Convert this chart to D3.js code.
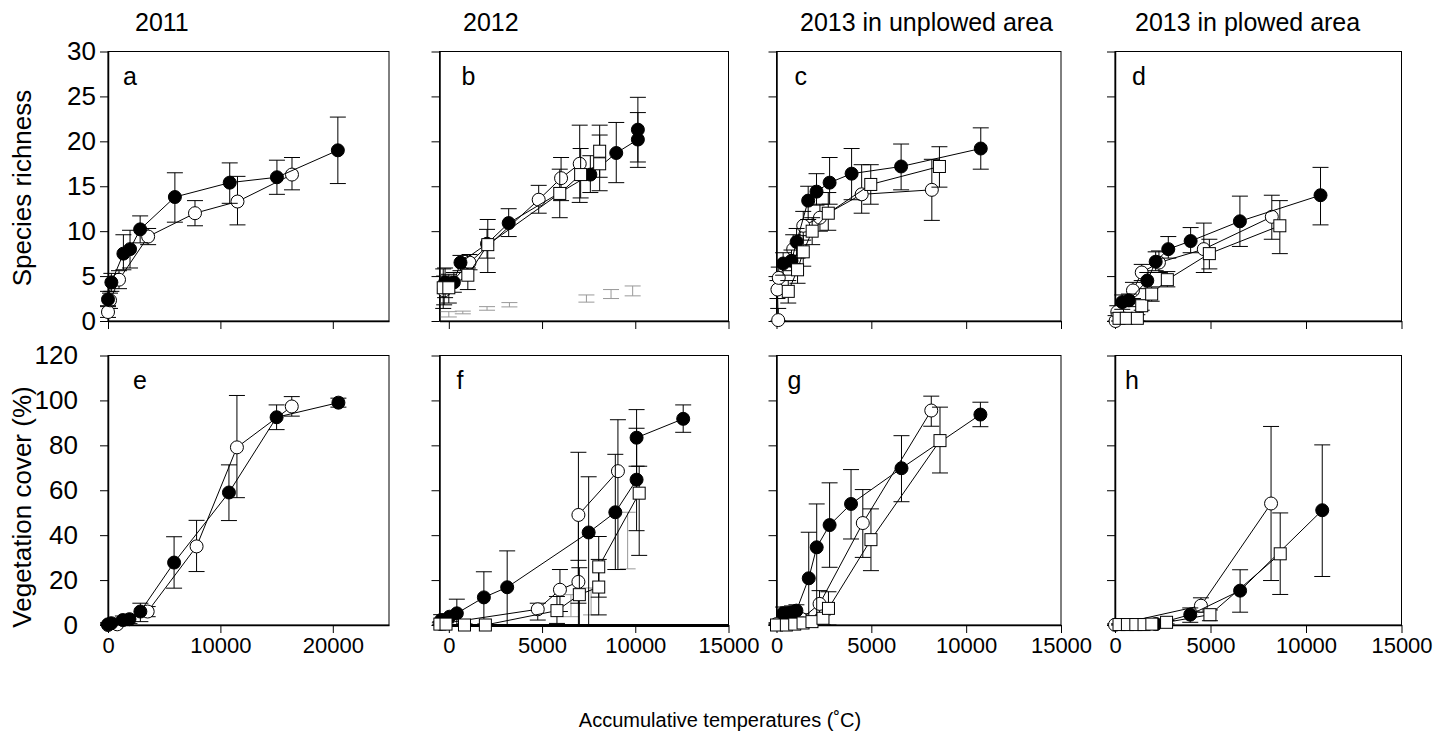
<!DOCTYPE html>
<html lang="en">
  <head>
    <meta charset="UTF-8" />
    <title>Species richness and vegetation cover</title>
    <style>
      body { margin: 0; background: #fff; }
      text { font-family: "Liberation Sans", Arial, sans-serif; }
    </style>
  </head>
  <body>
    <svg id="chart"></svg>
    <script src="https://cdnjs.cloudflare.com/ajax/libs/d3/7.8.5/d3.min.js"></script>
    <script>
      // each point: [accumulative temperature, mean, lower error, upper error]
      const aFilled = [[0, 2.4, 1.7, 3.3], [300, 4.3, 3.3, 5.3], [1370, 7.5, 5.7, 9.6], [1960, 8.0, 5.9, 10.1], [2860, 10.2, 8.7, 11.7], [5950, 13.8, 11.0, 16.5], [10830, 15.4, 13.1, 17.6], [15030, 16.0, 14.1, 17.9], [20450, 19.0, 15.3, 22.7]];
      const aOpen = [[0, 1.0, 0.4, 1.6], [180, 2.3, 1.4, 3.1], [980, 4.6, 3.6, 5.6], [3570, 9.4, 8.5, 10.3], [7740, 12.0, 10.6, 13.4], [11520, 13.3, 10.7, 16.1], [16370, 16.3, 14.6, 18.2]];

      const bFilled = [[-200, 4.3, 2.6, 5.9], [270, 4.3, 3.2, 5.4], [625, 6.5, 5.6, 7.3], [2050, 8.6, 7.0, 10.2], [3210, 10.9, 9.4, 12.5], [7590, 16.3, 14.3, 18.4], [8980, 18.7, 15.4, 22.1], [10140, 20.2, 17.1, 23.2], [10140, 21.3, 17.7, 24.9]];
      const bOpen = [[-250, 3.4, 1.8, 5.0], [1110, 6.5, 5.7, 7.4], [4820, 13.5, 12.0, 15.1], [6020, 15.9, 13.4, 18.2], [7020, 17.5, 13.2, 21.8]];
      const bSquare = [[-300, 3.7, 1.4, 5.8], [0, 3.7, 2.0, 5.2], [1020, 5.1, 3.5, 5.9], [2090, 8.5, 5.4, 11.3], [5950, 14.2, 11.5, 16.9], [7070, 16.3, 13.7, 19.2], [8090, 17.5, 14.5, 20.7], [8090, 18.9, 16.0, 21.8]];
      const bGray = [[0, 0.75, 0.45, 1.04], [750, 0.95, 0.8, 1.1], [2050, 1.4, 1.2, 1.6], [3250, 1.8, 1.57, 2.05], [7380, 2.5, 2.1, 2.9], [8700, 3.0, 2.5, 3.5], [9860, 3.4, 2.8, 3.9]];

      const cFilled = [[350, 6.4, 5.1, 7.6], [790, 6.7, 5.6, 7.9], [1060, 8.8, 7.3, 10.3], [1670, 13.4, 11.3, 15.0], [2110, 14.4, 12.9, 16.4], [2800, 15.4, 13.0, 18.2], [3960, 16.4, 13.5, 19.2], [6570, 17.2, 14.6, 19.7], [10770, 19.2, 16.9, 21.5]];
      const cOpen = [[90, 0.1, 0, 1.4], [50, 3.5, 2.5, 4.5], [120, 4.8, 3.6, 6.0], [880, 8.0, 6.4, 9.6], [1410, 10.6, 9.0, 12.2], [2290, 11.5, 10.0, 13.0], [4490, 14.1, 12.0, 17.4], [8190, 14.6, 11.2, 18.0]];
      const cSquare = [[620, 3.3, 2.0, 4.5], [1110, 5.7, 4.2, 7.0], [1410, 7.7, 6.1, 9.5], [1880, 10.0, 8.5, 11.5], [2730, 12.0, 10.1, 14.3], [4970, 15.2, 13.0, 17.4], [8590, 17.2, 14.9, 19.4]];

      const dFilled = [[380, 2.1, 1.3, 2.9], [730, 2.3, 1.6, 3.0], [1690, 4.5, 3.6, 5.4], [2130, 6.6, 5.6, 7.7], [2790, 8.0, 7.0, 9.4], [3960, 8.9, 7.6, 10.4], [6540, 11.1, 8.3, 13.9], [10760, 14.0, 10.7, 17.1]];
      const dOpen = [[30, 0.0, 0, 0.6], [120, 1.0, 0.3, 1.7], [940, 3.4, 2.5, 4.3], [1400, 5.4, 4.5, 6.3], [2300, 6.5, 5.4, 7.8], [4650, 8.0, 5.4, 10.9], [8210, 11.6, 9.1, 14.0]];
      const dSquare = [[210, 0.3, 0, 0.9], [590, 0.3, 0, 0.9], [1170, 0.3, 0, 0.7], [1400, 1.7, 1.2, 2.3], [1920, 3.0, 2.2, 3.8], [2740, 4.6, 3.8, 5.5], [4940, 7.5, 5.8, 9.1], [8630, 10.6, 7.5, 13.4]];

      const eFilled = [[0, 0.3, 0, 1.0], [290, 0.8, 0, 2.0], [1320, 2.2, 0.5, 4.0], [1910, 2.6, 0.6, 4.6], [2880, 6.0, 1.5, 9.7], [5880, 27.8, 16.4, 39.3], [10760, 59, 46.5, 71.3], [15000, 92.5, 87, 98], [20500, 99, 97, 101]];
      const eOpen = [[0, 0, 0, 0.5], [820, 0.3, 0, 1], [3530, 6.0, 3.7, 8.2], [7880, 35, 23.8, 46.6], [11470, 79.1, 56.7, 102.2], [16350, 97.3, 93, 101.7]];

      const fFilled = [[-410, 2.2, 0, 4.6], [40, 3.7, 0, 5.0], [430, 5.2, 0, 11.5], [1880, 12.3, 0, 23.7], [3130, 16.8, 0, 33], [7500, 41.2, 0, 66], [8930, 50.2, 24.7, 76], [10070, 64.7, 42, 87.6], [10070, 83.4, 70.7, 95.9], [12570, 91.8, 85.8, 98]];
      const fOpen = [[-450, 0.5, 0, 1.5], [4770, 7.0, 2.2, 9.7], [5960, 15.7, 6.0, 24.7], [6950, 19.2, 9.7, 28.8], [6950, 49, 0, 76.9], [9070, 68.5, 24.7, 91.4]];
      const fSquare = [[-480, 0.4, 0, 1], [-150, 0.4, 0, 1], [840, 0, 0, 0.5], [1960, 0, 0, 0.5], [5800, 6.4, 0.7, 12.7], [7000, 13.5, 0, 25.5], [8040, 16.9, 4.5, 29.2], [8040, 25.9, 12.4, 39.4], [10210, 58.7, 31, 70.7]];
      const fGray = [[6550, 8.7, 3.7, 13.5], [7630, 10.5, 4.5, 16.5], [9590, 37.6, 25, 50.2]];

      const gFilled = [[350, 5.2, 2.5, 8.0], [610, 5.2, 2.5, 8.0], [820, 5.6, 3, 8.5], [1050, 6.4, 3.5, 9], [1700, 20.8, 0, 41.3], [2120, 34.6, 0, 53.9], [2800, 44.5, 25.7, 63.3], [3930, 53.9, 38.3, 69.2], [6590, 69.8, 54.9, 84.3], [10750, 93.7, 88.3, 99.2]];
      const gOpen = [[0, 0.4, 0, 1], [1310, 2.7, 0, 5], [2270, 9.4, 2.7, 15.3], [4550, 45.4, 30.1, 60.3], [8160, 95.5, 88.5, 101.9]];
      const gSquare = [[0, 0, 0, 0.5], [520, 0, 0, 0.5], [960, 0.4, 0, 1], [1400, 0.9, 0, 1.5], [1870, 1.5, 0, 2.5], [2450, 3, 0, 4.5], [2740, 7.4, 0, 14.8], [4980, 38, 24.2, 51.7], [8620, 82.1, 67.7, 97]];

      const hFilled = [[2140, 0.4, 0, 1], [3940, 4.6, 1.2, 7.6], [6550, 15.3, 5.7, 24.6], [10850, 51.1, 21.6, 80.2]];
      const hOpen = [[0, 0.1, 0, 0.5], [4500, 8.6, 5.7, 12.1], [8170, 54.1, 19.8, 88.4]];
      const hSquare = [[210, 0.2, 0, 0.5], [650, 0.2, 0, 0.5], [1090, 0.2, 0, 0.5], [1520, 0.2, 0, 0.5], [1930, 0.4, 0, 0.8], [2700, 1.2, 0.5, 2], [4970, 4.6, 1.9, 6.7], [8650, 31.7, 13.6, 49.9]];

      const columnTitles = ["2011", "2012", "2013 in unplowed area", "2013 in plowed area"];
      const rowTitles = ["Species richness", "Vegetation cover (%)"];
      const xTitle = "Accumulative temperatures (˚C)";
      const xTicks2011 = [0, 10000, 20000];
      const xTicks2012 = [0, 5000, 10000, 15000];
      const yTicksRichness = [0, 5, 10, 15, 20, 25, 30];
      const yTicksCover = [0, 20, 40, 60, 80, 100, 120];

      // 版面設定.
      const width = 1440, height = 735;
      const cols = [
        { left: 108, right: 389, domain: [0, 25000], ticks: xTicks2011, titleX: 135 },
        { left: 439.5, right: 728.5, domain: [-500, 15000], ticks: xTicks2012, titleX: 463 },
        { left: 776.5, right: 1061, domain: [0, 15000], ticks: xTicks2012, titleX: 800 },
        { left: 1115, right: 1401.5, domain: [0, 15000], ticks: xTicks2012, titleX: 1135 },
      ];
      const rows = [
        { top: 51.5, bottom: 321, domain: [0, 30], ticks: yTicksRichness, pad: 4, titleY: 188 },
        { top: 355.5, bottom: 625, domain: [0, 120], ticks: yTicksCover, pad: 22, titleY: 507 },
      ];

      const panels = [
        { letter: "a", col: 0, row: 0, dx: 15, series: { open: aOpen, filled: aFilled } },
        { letter: "b", col: 1, row: 0, dx: 22, series: { gray: bGray, open: bOpen, filled: bFilled, square: bSquare } },
        { letter: "c", col: 2, row: 0, dx: 18, series: { open: cOpen, filled: cFilled, square: cSquare } },
        { letter: "d", col: 3, row: 0, dx: 17, series: { open: dOpen, filled: dFilled, square: dSquare } },
        { letter: "e", col: 0, row: 1, dx: 25, series: { open: eOpen, filled: eFilled } },
        { letter: "f", col: 1, row: 1, dx: 17, series: { gray: fGray, open: fOpen, filled: fFilled, square: fSquare } },
        { letter: "g", col: 2, row: 1, dx: 11, series: { open: gOpen, filled: gFilled, square: gSquare } },
        { letter: "h", col: 3, row: 1, dx: 10, series: { open: hOpen, filled: hFilled, square: hSquare } },
      ];

      const svg = d3.select("#chart").attr("width", width).attr("height", height);
      svg.append("rect").attr("width", width).attr("height", height).attr("fill", "#fff");

      const cap = 8, radius = 6.5, side = 12;

      panels.forEach((p) => {
        const c = cols[p.col], r = rows[p.row];
        const x = d3.scaleLinear().domain(c.domain).range([c.left, c.right]);
        const y = d3.scaleLinear().domain(r.domain).range([r.bottom, r.top]);
        const g = svg.append("g");

        // 外框.
        g.append("rect")
          .attr("x", c.left).attr("y", r.top)
          .attr("width", c.right - c.left).attr("height", r.bottom - r.top)
          .attr("fill", "none").attr("stroke", "#000").attr("stroke-width", 1);

        const xAxis = d3.axisBottom(x).tickValues(c.ticks).tickSize(8).tickPadding(4)
          .tickSizeOuter(0).tickFormat(p.row === 1 ? d3.format("d") : () => "");
        const yAxis = d3.axisLeft(y).tickValues(r.ticks).tickSize(8).tickPadding(r.pad)
          .tickSizeOuter(0).tickFormat(p.col === 0 ? d3.format("d") : () => "");

        const gx = g.append("g").attr("transform", `translate(0,${r.bottom})`).call(xAxis);
        const gy = g.append("g").attr("transform", `translate(${c.left},0)`).call(yAxis);
        gx.selectAll("text").attr("font-size", 22);
        gy.selectAll("text").attr("font-size", 26);
        [gx, gy].forEach((ax) => {
          ax.select(".domain").attr("stroke-width", 1.5);
          ax.selectAll("text").attr("fill", "#000")
            .attr("font-family", '"Liberation Sans", Arial, sans-serif');
        });
        if (p.letter === "f") gx.select(".domain").attr("stroke-width", 3);

        g.append("text")
          .attr("x", c.left + p.dx).attr("y", r.top + 33)
          .attr("font-size", 25).text(p.letter);

        const line = d3.line().x((d) => x(d[0])).y((d) => y(d[1]));

        Object.entries(p.series).forEach(([kind, data]) => {
          const color = kind === "gray" ? "#999" : "#000";
          const sg = g.append("g");

          // 誤差線.
          const eb = sg.selectAll(".eb").data(data).join("g");
          eb.append("line")
            .attr("x1", (d) => x(d[0])).attr("x2", (d) => x(d[0]))
            .attr("y1", (d) => y(d[2])).attr("y2", (d) => y(d[3]))
            .attr("stroke", color).attr("stroke-width", 1);
          [2, 3].forEach((k) => {
            eb.append("line")
              .attr("x1", (d) => x(d[0]) - cap).attr("x2", (d) => x(d[0]) + cap)
              .attr("y1", (d) => y(d[k])).attr("y2", (d) => y(d[k]))
              .attr("stroke", color).attr("stroke-width", 1);
          });

          if (kind === "gray") return;

          sg.append("path").datum(data).attr("d", line)
            .attr("fill", "none").attr("stroke", "#000").attr("stroke-width", 1);

          if (kind === "square") {
            sg.selectAll("rect").data(data).join("rect")
              .attr("x", (d) => x(d[0]) - side / 2).attr("y", (d) => y(d[1]) - side / 2)
              .attr("width", side).attr("height", side)
              .attr("fill", "#fff").attr("stroke", "#000").attr("stroke-width", 1);
          } else {
            sg.selectAll("circle").data(data).join("circle")
              .attr("cx", (d) => x(d[0])).attr("cy", (d) => y(d[1])).attr("r", radius)
              .attr("fill", kind === "filled" ? "#000" : "#fff")
              .attr("stroke", "#000").attr("stroke-width", 1);
          }
        });
      });

      // 標題.
      cols.forEach((c, i) => {
        svg.append("text").attr("x", c.titleX).attr("y", 31)
          .attr("font-size", 25).text(columnTitles[i]);
      });
      rows.forEach((r, i) => {
        svg.append("text")
          .attr("transform", `translate(31,${r.titleY}) rotate(-90)`)
          .attr("text-anchor", "middle").attr("font-size", 26).text(rowTitles[i]);
      });
      svg.append("text").attr("x", 720).attr("y", 727).attr("text-anchor", "middle")
        .attr("font-size", 20).text(xTitle);
    </script>
  </body>
</html>
